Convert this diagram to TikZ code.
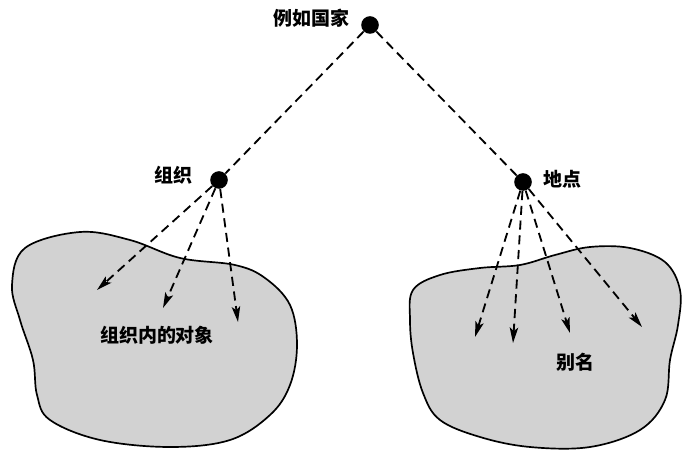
\documentclass[tikz,border=0pt]{standalone}
\usepackage{fontspec}
\newfontfamily\cjk{Noto Sans CJK SC}
\usetikzlibrary{arrows.meta,positioning}
\tikzstyle{vertex} = [circle, fill=black, inner sep=0pt, minimum size=0.44cm]
\tikzstyle{tag} = [font=\cjk\bfseries\fontsize{13.5}{16}\selectfont, inner sep=0pt]
\tikzstyle{link} = [line width=1.3pt, dash pattern=on 6.5pt off 4pt]
\tikzstyle{arrow} = [link, -{Stealth[length=11pt,width=6pt,inset=2.5pt]}]
\tikzstyle{region} = [draw=black, line width=1.2pt, fill=gray!35]

\begin{document}
\begin{tikzpicture}[x=0.025cm, y=-0.025cm]
\useasboundingbox (0,0) rectangle (684,452);

% the two regions
\draw [region] plot[smooth cycle, tension=0.6] coordinates {
  (12,285) (25,248) (80,232) (130,240) (180,258) (235,265) (265,278) (290,305)
  (297,345) (290,385) (270,415) (230,440) (170,447) (100,440) (50,420)
  (37,395) (33,360) (20,320)};
\draw [region] plot[smooth cycle, tension=0.6] coordinates {
  (413,290) (440,275) (480,268) (520,265) (555,255) (590,247) (630,248)
  (665,262) (680,290) (678,325) (670,360) (665,400) (640,430) (590,447)
  (530,447) (480,437) (440,420) (423,393) (413,353) (410,320)};

\node (country) [vertex] at (370,25) {};
\node (org) [vertex] at (219,180) {};
\node (place) [vertex] at (523,182) {};

\node (countryTag) [tag, left=0.28cm of country, yshift=0.18cm] {例如国家};
\node (orgTag) [tag, left=0.42cm of org, yshift=0.12cm] {组织};
\node (placeTag) [tag, right=0.28cm of place, yshift=0.08cm] {地点};

\node (objects) [tag] at (157,335) {组织内的对象};
\node (alias) [tag] at (575,362) {别名};

\coordinate (o1) at (97,290);
\coordinate (o2) at (163,308);
\coordinate (o3) at (238,322);
\coordinate (p1) at (475,337);
\coordinate (p2) at (513,343);
\coordinate (p3) at (570,333);
\coordinate (p4) at (642,327);

\draw [link] (country) -- (org);
\draw [link] (country) -- (place);
\draw [arrow] (org) -- (o1);
\draw [arrow] (org) -- (o2);
\draw [arrow] (org) -- (o3);
\draw [arrow] (place) -- (p1);
\draw [arrow] (place) -- (p2);
\draw [arrow] (place) -- (p3);
\draw [arrow] (place) -- (p4);
\end{tikzpicture}
\end{document}
